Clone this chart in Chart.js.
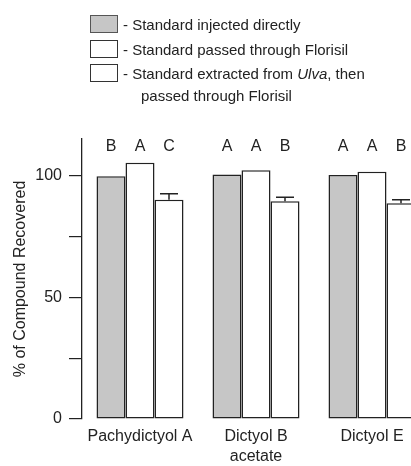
<!DOCTYPE html>
<html>
<head>
<meta charset="utf-8">
<script src="https://cdn.jsdelivr.net/npm/chart.js@4.4.1/dist/chart.umd.min.js"></script>
<style>
  html, body { margin: 0; padding: 0; background: #fff; overflow: hidden; }
  body { width: 411px; height: 466px; position: relative; font-family: "Liberation Sans", Arial, sans-serif; color: #222; }
  #wrap { position: absolute; left: 0; top: 0; width: 440px; height: 466px; }
  .legend { position: absolute; left: 90px; top: 0; font-size: 15px; }
  .row { position: absolute; left: 0; display: flex; align-items: center; white-space: nowrap; height: 20px; }
  .box { width: 26px; height: 16px; border: 1px solid #333; margin-right: 5px; }
  .indent { position: absolute; left: 51px; white-space: nowrap; }
</style>
</head>
<body>
<div id="wrap"><canvas id="chart"></canvas></div>
<div class="legend">
  <div class="row" style="top:14px"><div class="box" style="background:#c6c6c6;border-color:#555"></div>- Standard injected directly</div>
  <div class="row" style="top:39px"><div class="box"></div>- Standard passed through Florisil</div>
  <div class="row" style="top:63px"><div class="box"></div>- Standard extracted from&nbsp;<i>Ulva</i>, then</div>
  <div class="indent" style="top:87px">passed through Florisil</div>
</div>
<script>
const categories = ['Pachydictyol A', ['Dictyol B', 'acetate'], 'Dictyol E'];
const seriesLabels = ['Standard injected directly', 'Standard passed through Florisil', 'Standard extracted from Ulva, then passed through Florisil'];
const injected = [99.7, 100.4, 100.2];
const florisil = [105.2, 102.2, 101.6];
const extracted = [90.1, 89.4, 88.6];
const extractedErr = [2.4, 1.7, 1.5];
const letters = [['B', 'A', 'C'], ['A', 'A', 'B'], ['A', 'A', 'B']];
const yTicks = [0, 25, 50, 75, 100];
const yTickLabels = ['0', '', '50', '', '100'];

const ink = '#222';

const errorBars = {
    id: 'errorBars',
    afterDatasetsDraw(chart) {
        const ctx = chart.ctx;
        const y = chart.scales.y;
        const meta = chart.getDatasetMeta(2);
        ctx.save();
        ctx.strokeStyle = ink;
        ctx.lineWidth = 1.5;
        meta.data.forEach((bar, i) => {
            const top = y.getPixelForValue(extracted[i] + extractedErr[i]);
            ctx.beginPath();
            ctx.moveTo(bar.x, bar.y);
            ctx.lineTo(bar.x, top);
            ctx.moveTo(bar.x - 9, top);
            ctx.lineTo(bar.x + 9, top);
            ctx.stroke();
        });
        ctx.restore();
    }
};

const letterMarks = {
    id: 'letterMarks',
    afterDatasetsDraw(chart) {
        const ctx = chart.ctx;
        const yPos = chart.scales.y.getPixelForValue(112);
        ctx.save();
        ctx.fillStyle = ink;
        ctx.font = '16px "Liberation Sans", Arial, sans-serif';
        ctx.textAlign = 'center';
        ctx.textBaseline = 'middle';
        for (let d = 0; d < 3; d++) {
            chart.getDatasetMeta(d).data.forEach((bar, i) => {
                ctx.fillText(letters[i][d], bar.x, yPos);
            });
        }
        ctx.restore();
    }
};

const barStyle = {
    borderColor: ink,
    borderWidth: 1.5,
    borderSkipped: false,
    categoryPercentage: 0.75,
    barPercentage: 1.0
};

new Chart(document.getElementById('chart'), {
    type: 'bar',
    data: {
        labels: categories,
        datasets: [
            Object.assign({ label: seriesLabels[0], data: injected, backgroundColor: '#c6c6c6' }, barStyle),
            Object.assign({ label: seriesLabels[1], data: florisil, backgroundColor: '#fff' }, barStyle),
            Object.assign({ label: seriesLabels[2], data: extracted, backgroundColor: '#fff' }, barStyle)
        ]
    },
    options: {
        responsive: true,
        maintainAspectRatio: false,
        animation: false,
        layout: { padding: { top: 139, right: 10, left: 0, bottom: 0 } },
        plugins: {
            legend: { display: false },
            tooltip: { enabled: false }
        },
        scales: {
            x: {
                grid: { display: false, drawTicks: false },
                border: { display: false },
                ticks: {
                    color: ink,
                    padding: 8,
                    font: { family: '"Liberation Sans", Arial, sans-serif', size: 16, lineHeight: 1.25 }
                },
                afterFit(scale) { scale.height = 47; }
            },
            y: {
                min: 0,
                max: 115,
                afterBuildTicks(scale) { scale.ticks = yTicks.map(v => ({ value: v })); },
                grid: { drawOnChartArea: false, drawTicks: true, tickLength: 13, color: ink, lineWidth: 1.2 },
                border: { display: true, color: ink, width: 1.3 },
                ticks: {
                    color: ink,
                    padding: 7,
                    font: { family: '"Liberation Sans", Arial, sans-serif', size: 16 },
                    callback: (v, i) => yTickLabels[i]
                },
                title: {
                    display: true,
                    text: '% of Compound Recovered',
                    color: ink,
                    padding: { top: 11, bottom: 0 },
                    font: { family: '"Liberation Sans", Arial, sans-serif', size: 16 }
                },
                afterFit(scale) { scale.width = 82; }
            }
        }
    },
    plugins: [errorBars, letterMarks]
});
</script>
</body>
</html>
